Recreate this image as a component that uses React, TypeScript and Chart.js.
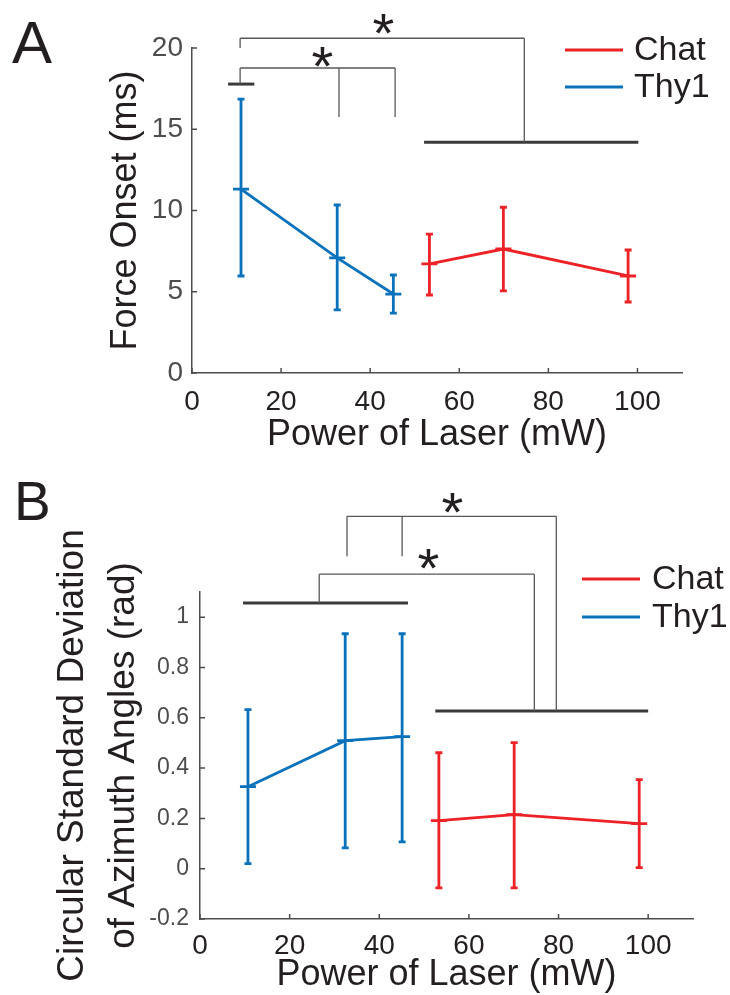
import React, { useEffect, useRef } from 'react';
import { Chart, registerables } from 'chart.js';

Chart.register(...registerables);

const FONT = '"Liberation Sans", Arial, Helvetica, sans-serif';
const INK = '#231f20';
const AXIS_GRAY = '#4d4d4d';
const LINK_GRAY = '#5b5758';
const BAR_GRAY = '#3a3a3a';
const BLUE = '#0a72ba';
const RED = '#ec2227';

// ---------- shared ----------
const xAxisTitle = 'Power of Laser (mW)';
const xTickValues = [0, 20, 40, 60, 80, 100];
const legendOrder = ['Chat', 'Thy1'];

// ---------- Panel A: force onset ----------
const onsetYTitle = 'Force Onset (ms)';
const onsetYTicks = [0, 5, 10, 15, 20];
const thy1PowerA = [11.0, 32.6, 45.2];
const thy1OnsetMean = [11.32, 7.08, 4.86];
const thy1OnsetLow = [5.97, 3.88, 3.69];
const thy1OnsetHigh = [16.86, 10.34, 6.03];
const chatPowerA = [53.3, 69.9, 97.9];
const chatOnsetMean = [6.71, 7.63, 5.97];
const chatOnsetLow = [4.8, 5.05, 4.37];
const chatOnsetHigh = [8.55, 10.2, 7.57];
// significance annotations (data units): group bars [x0, x1, y]
const onsetGroupBars = [[8.1, 14.0, 17.78], [52.1, 100.2, 14.2]];
const onsetLinkXs = [[10.8, 33.0, 45.6], [10.8, 74.6]];
const onsetLinkEnds = [[17.78, 15.75, 15.75], [20.0, 14.2]];
const onsetLinkTops = [18.77, 20.6];
const onsetStars = [[29.2, 19.45], [42.9, 21.5]];

// ---------- Panel B: circular SD ----------
const csdYTitle = ['Circular Standard Deviation', 'of Azimuth Angles (rad)'];
const csdYTicks = [-0.2, 0, 0.2, 0.4, 0.6, 0.8, 1];
const thy1PowerB = [10.7, 32.4, 45.1];
const thy1CsdMean = [0.326, 0.509, 0.525];
const thy1CsdLow = [0.02, 0.083, 0.107];
const thy1CsdHigh = [0.632, 0.934, 0.934];
const chatPowerB = [53.3, 70.1, 98.0];
const chatCsdMean = [0.191, 0.215, 0.179];
const chatCsdLow = [-0.076, -0.076, 0.004];
const chatCsdHigh = [0.461, 0.501, 0.354];
const csdGroupBars = [[9.6, 46.4, 1.056], [52.5, 100.0, 0.627]];
const csdLinkXs = [[26.6, 74.6], [32.8, 45.1, 79.5]];
const csdLinkEnds = [[1.056, 0.627], [1.242, 1.242, 0.627]];
const csdLinkTops = [1.171, 1.401];
const csdStars = [[50.9, 1.233], [56.25, 1.455]];

function makeDecor(spec: any) {
  return {
    id: 'decor' + spec.letter,
    afterDatasetsDraw(chart: any) {
      const ctx = chart.ctx;
      const xs = chart.scales.x;
      const ys = chart.scales.y;
      ctx.save();
      chart.data.datasets.forEach((ds: any) => {
        ctx.strokeStyle = ds.borderColor;
        ctx.lineWidth = 2.8;
        ctx.lineCap = 'butt';
        ds.data.forEach((pt: any, i: number) => {
          const px = xs.getPixelForValue(pt.x);
          const py = ys.getPixelForValue(pt.y);
          const pl = ys.getPixelForValue(ds.errLow[i]);
          const ph = ys.getPixelForValue(ds.errHigh[i]);
          ctx.beginPath();
          ctx.moveTo(px, pl); ctx.lineTo(px, ph);
          ctx.moveTo(px - 3.5, pl); ctx.lineTo(px + 3.5, pl);
          ctx.moveTo(px - 3.5, ph); ctx.lineTo(px + 3.5, ph);
          ctx.moveTo(px - 8, py); ctx.lineTo(px + 8, py);
          ctx.stroke();
        });
      });
      ctx.restore();
    },
    afterDraw(chart: any) {
      const ctx = chart.ctx;
      const xs = chart.scales.x;
      const ys = chart.scales.y;
      const area = chart.chartArea;
      ctx.save();
      // inward tick marks
      ctx.strokeStyle = AXIS_GRAY;
      ctx.lineWidth = 1.5;
      ctx.beginPath();
      xs.ticks.forEach((_t: any, i: number) => {
        const px = xs.getPixelForTick(i);
        ctx.moveTo(px, area.bottom);
        ctx.lineTo(px, area.bottom - 5);
      });
      ys.ticks.forEach((_t: any, i: number) => {
        const py = ys.getPixelForTick(i);
        ctx.moveTo(area.left, py);
        ctx.lineTo(area.left + 5, py);
      });
      ctx.stroke();

      // group bars
      ctx.strokeStyle = BAR_GRAY;
      ctx.lineWidth = 3;
      spec.bars.forEach((b: number[]) => {
        ctx.beginPath();
        ctx.moveTo(xs.getPixelForValue(b[0]), ys.getPixelForValue(b[2]));
        ctx.lineTo(xs.getPixelForValue(b[1]), ys.getPixelForValue(b[2]));
        ctx.stroke();
      });
      // links
      ctx.strokeStyle = LINK_GRAY;
      ctx.lineWidth = 1.3;
      spec.linkXs.forEach((lx: number[], k: number) => {
        const top = ys.getPixelForValue(spec.linkTops[k]);
        ctx.beginPath();
        ctx.moveTo(xs.getPixelForValue(Math.min(...lx)), top);
        ctx.lineTo(xs.getPixelForValue(Math.max(...lx)), top);
        lx.forEach((xv: number, j: number) => {
          const px = xs.getPixelForValue(xv);
          ctx.moveTo(px, top);
          ctx.lineTo(px, ys.getPixelForValue(spec.linkEnds[k][j]));
        });
        ctx.stroke();
      });
      // stars
      ctx.fillStyle = INK;
      ctx.font = `56px ${FONT}`;
      ctx.textAlign = 'left';
      ctx.textBaseline = 'alphabetic';
      const m = ctx.measureText('*');
      spec.stars.forEach((s: number[]) => {
        const cx = xs.getPixelForValue(s[0]);
        const cy = ys.getPixelForValue(s[1]);
        const x = cx - (m.actualBoundingBoxRight - m.actualBoundingBoxLeft) / 2;
        const y = cy - (m.actualBoundingBoxDescent - m.actualBoundingBoxAscent) / 2;
        ctx.fillText('*', x, y);
      });
      // legend
      const lg = spec.legend;
      legendOrder.forEach((name, i) => {
        const ds = chart.data.datasets.find((d: any) => d.label === name);
        const y = lg.ys[i];
        ctx.strokeStyle = ds.borderColor;
        ctx.lineWidth = 3;
        ctx.beginPath();
        ctx.moveTo(lg.x0, y);
        ctx.lineTo(lg.x1, y);
        ctx.stroke();
        ctx.fillStyle = INK;
        ctx.font = `${lg.size}px ${FONT}`;
        ctx.textBaseline = 'middle';
        ctx.fillText(name, lg.textX, y + 1);
      });
      // panel letter
      ctx.fillStyle = INK;
      ctx.font = `${spec.letterSize}px ${FONT}`;
      ctx.textBaseline = 'alphabetic';
      ctx.fillText(spec.letter, spec.letterPos[0], spec.letterPos[1]);
      ctx.restore();
    },
  };
}

function seriesDataset(label: string, color: string, xs: number[], mean: number[], low: number[], high: number[]) {
  return {
    label,
    data: xs.map((x, i) => ({ x, y: mean[i] })),
    borderColor: color,
    backgroundColor: color,
    borderWidth: 2.8,
    pointRadius: 0,
    fill: false,
    tension: 0,
    errLow: low,
    errHigh: high,
  };
}

function axisConfig(o: any) {
  return {
    type: 'linear',
    min: o.min,
    max: o.max,
    afterBuildTicks: (s: any) => { s.ticks = o.ticks.map((v: number) => ({ value: v })); },
    afterFit: o.fit,
    grid: { display: false, drawTicks: false },
    border: { display: true, color: AXIS_GRAY, width: 1.5 },
    ticks: {
      font: { family: FONT, size: o.tickSize },
      color: o.tickColor,
      padding: o.tickPad,
      maxRotation: 0,
      autoSkip: false,
      callback: (v: any) => String(v),
    },
    title: {
      display: true,
      text: o.title,
      font: { family: FONT, size: o.titleSize, lineHeight: o.titleLH },
      color: INK,
      padding: o.titlePad,
    },
  };
}

function configA() {
  return {
    type: 'line',
    data: {
      datasets: [
        seriesDataset('Thy1', BLUE, thy1PowerA, thy1OnsetMean, thy1OnsetLow, thy1OnsetHigh),
        seriesDataset('Chat', RED, chatPowerA, chatOnsetMean, chatOnsetLow, chatOnsetHigh),
      ],
    },
    options: {
      responsive: false,
      animation: false,
      layout: { padding: { top: 48, right: 48, left: 0, bottom: 0 } },
      plugins: { legend: { display: false }, tooltip: { enabled: false } },
      scales: {
        x: axisConfig({
          min: 0, max: 110, ticks: xTickValues, fit: (s: any) => { s.height = 92; },
          tickSize: 28, tickColor: INK, tickPad: 12,
          title: xAxisTitle, titleSize: 36, titleLH: 1, titlePad: { top: 0, bottom: 12 },
        }),
        y: axisConfig({
          min: 0, max: 20, ticks: onsetYTicks, fit: (s: any) => { s.width = 192; },
          tickSize: 28, tickColor: '#4d4d4d', tickPad: 9,
          title: onsetYTitle, titleSize: 36, titleLH: 1, titlePad: { top: 108, bottom: 0 },
        }),
      },
    },
    plugins: [makeDecor({
      letter: 'A', letterSize: 60, letterPos: [12, 63],
      bars: onsetGroupBars, linkXs: onsetLinkXs, linkEnds: onsetLinkEnds,
      linkTops: onsetLinkTops, stars: onsetStars,
      legend: { x0: 565, x1: 623, textX: 634, ys: [50, 87], size: 34 },
    })],
  };
}

function configB() {
  return {
    type: 'line',
    data: {
      datasets: [
        seriesDataset('Thy1', BLUE, thy1PowerB, thy1CsdMean, thy1CsdLow, thy1CsdHigh),
        seriesDataset('Chat', RED, chatPowerB, chatCsdMean, chatCsdLow, chatCsdHigh),
      ],
    },
    options: {
      responsive: false,
      animation: false,
      layout: { padding: { top: 127, right: 37, left: 0, bottom: 0 } },
      plugins: { legend: { display: false }, tooltip: { enabled: false } },
      scales: {
        x: axisConfig({
          min: 0, max: 110, ticks: xTickValues, fit: (s: any) => { s.height = 76; },
          tickSize: 28, tickColor: INK, tickPad: 10,
          title: xAxisTitle, titleSize: 36, titleLH: 1, titlePad: { top: 0, bottom: 1.5 },
        }),
        y: axisConfig({
          min: -0.2, max: 1.1, ticks: csdYTicks, fit: (s: any) => { s.width = 200; },
          tickSize: 23, tickColor: '#4d4d4d', tickPad: 11,
          title: csdYTitle, titleSize: 37, titleLH: '51px', titlePad: { top: 47.5, bottom: 0 },
        }),
      },
    },
    plugins: [makeDecor({
      letter: 'B', letterSize: 55, letterPos: [14, 55],
      bars: csdGroupBars, linkXs: csdLinkXs, linkEnds: csdLinkEnds,
      linkTops: csdLinkTops, stars: csdStars,
      legend: { x0: 582, x1: 640, textX: 652, ys: [114, 152], size: 34 },
    })],
  };
}

function Panel({ make, height }: { make: () => any; height: number }) {
  const ref = useRef<HTMLCanvasElement | null>(null);
  useEffect(() => {
    const chart = new Chart(ref.current as HTMLCanvasElement, make());
    return () => chart.destroy();
  }, []);
  return <canvas ref={ref} width={730} height={height} style={{ display: 'block', width: 730, height }} />;
}

export default function App() {
  return (
    <div style={{ position: 'absolute', left: 0, top: 0, width: 730, height: 995, background: '#ffffff' }}>
      <Panel make={configA} height={465} />
      <Panel make={configB} height={530} />
    </div>
  );
}
